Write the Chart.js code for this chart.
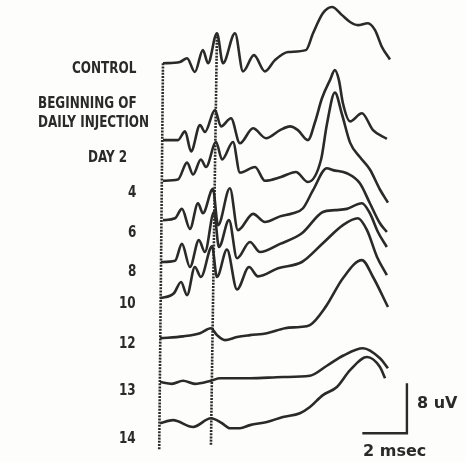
<!DOCTYPE html>
<html>
<head>
<meta charset="utf-8">
<script src="https://cdn.jsdelivr.net/npm/chart.js@4.4.1/dist/chart.umd.min.js"></script>
<style>
  html, body { margin: 0; padding: 0; background: #fdfdfb; }
  #wrap { position: relative; width: 466px; height: 462px; overflow: hidden; }
  .lbl {
    position: absolute;
    font-family: "DejaVu Sans Condensed", "DejaVu Sans", sans-serif;
    font-weight: bold;
    font-size: 15px;
    line-height: 1;
    color: #2a2a2a;
    white-space: nowrap;
    transform-origin: 0 50%;
    transform: translateY(-50%) scaleX(0.89);
  }
  .bar { font-family: "DejaVu Sans", sans-serif; font-size: 16px; transform: translateY(-50%); }
</style>
</head>
<body>
<div id="wrap"><canvas id="traces"></canvas></div>
<script>
/* time in msec after stimulus, amplitude in uV relative to each trace's own baseline */
const traceNames = ["CONTROL", "BEGINNING OF", "DAILY INJECTION", "DAY 2", "4", "6", "8", "10", "12", "13", "14"];

const control = [[0,0],[0.76,0.2],[1.08,0.8],[1.43,-1.4],[1.79,2.1],[2.02,0],[2.42,4.8],[2.69,0],[3.23,4.8],[3.59,-1.3],[4.08,1.3],[4.57,-1.3],[5.02,0.5],[5.61,1.8],[6.41,2.1],[6.73,4.8],[7.17,8.0],[7.58,9.0],[8.03,7.7],[8.39,6.6],[8.74,6.1],[9.19,6.4],[9.51,5.3],[9.82,2.6],[10.18,0.6]];
const injectionStart = [[0,0],[0.67,0],[0.99,1.4],[1.26,-1.8],[1.66,2.4],[1.88,1.3],[2.33,4.8],[2.60,2.2],[3.05,3.5],[3.45,-0.5],[4.04,1.9],[4.62,0.3],[5.25,1.6],[5.70,2.2],[6.05,1.6],[6.50,0],[6.82,2.9],[7.13,6.7],[7.49,9.6],[7.71,11.2],[7.89,9.6],[8.07,5.9],[8.39,3.0],[8.92,4.3],[9.42,1.6],[10.04,0.2]];
const day2 = [[0,0],[0.67,0.2],[1.08,2.9],[1.35,1.0],[1.70,3.4],[1.93,2.2],[2.38,6.2],[2.65,3.4],[3.14,6.2],[3.45,1.3],[4.13,2.2],[4.57,0],[5.29,0.6],[5.96,1.4],[6.50,-0.2],[7.09,3.4],[7.35,9.0],[7.71,14.1],[8.03,10.6],[8.39,6.1],[8.83,3.8],[9.28,1.8],[9.73,-1.4],[10.09,-3.5]];
const day4 = [[0,0],[0.54,0.3],[0.85,1.8],[1.21,-1.4],[1.57,2.7],[1.79,1.1],[2.24,5.0],[2.47,-0.8],[3.00,5.1],[3.36,-1.6],[4.04,1.0],[4.57,-0.3],[5.25,0.6],[5.83,1.1],[6.28,1.9],[6.73,4.8],[7.35,8.3],[7.62,8.0],[8.25,7.5],[8.83,5.9],[9.28,2.7],[9.73,-0.5],[10.04,-1.9]];
const day6 = [[-0.09,0],[0.54,0.2],[0.85,2.9],[1.21,-0.8],[1.61,3.5],[1.88,1.6],[2.29,8.0],[2.51,2.4],[2.96,6.7],[3.32,0.6],[3.90,3.2],[4.35,1.6],[5.25,2.9],[6.23,4.6],[7.17,8.0],[7.71,8.3],[8.25,8.5],[8.92,9.4],[9.28,7.8],[9.64,4.8],[10.04,2.4]];
const day8 = [[-0.13,0],[0.49,0.8],[0.81,2.6],[1.08,0.5],[1.43,5.0],[1.70,3.4],[2.20,8.3],[2.42,3.4],[2.87,7.8],[3.32,1.4],[3.86,5.0],[4.26,3.5],[5.16,4.8],[6.23,5.8],[7.17,8.8],[8.07,11.7],[8.74,12.8],[9.15,10.9],[9.60,6.6],[10.04,3.7]];
const day12 = [[-0.13,0],[0.90,0.3],[1.66,0.8],[2.15,1.6],[2.42,0.5],[2.78,-0.3],[3.32,0.2],[3.90,0.5],[4.66,0.8],[5.47,1.6],[6.14,1.8],[6.59,2.1],[7.31,5.1],[8.07,9.6],[8.92,12.5],[9.42,9.8],[10.09,5.0]];
const day13 = [[-0.13,0],[0.40,-0.3],[0.90,0.2],[1.43,-0.3],[2.15,0.2],[2.56,0.6],[3.90,0.6],[5.38,0.8],[6.59,1.0],[7.35,2.6],[8.07,4.2],[8.97,5.4],[9.73,3.8],[10.09,2.2]];
const day14 = [[-0.13,0],[0.45,0.5],[1.35,-0.6],[2.15,0.8],[2.65,0],[3.00,-0.8],[3.45,-0.8],[3.90,-0.3],[4.66,0.2],[5.38,1.0],[6.14,1.6],[6.59,2.6],[7.17,4.5],[7.80,5.8],[8.39,8.5],[9.15,10.6],[9.73,9.0],[9.96,7.2]];

/* vertical offset of each trace on the page, uV */
const traceOffsets = [63.8, 51.5, 45.0, 38.7, 32.0, 26.2, 19.8, 12.8, 6.2];

/* the two reference lines (stimulus, wave I), as [msec, uV] ends */
const stimulusLine = [[0, 63.8], [-0.17, 1.9]];
const waveOneLine = [[2.42, 68.6], [2.15, 2.7]];

/* calibration bar */
const calMs = 2;
const calUV = 8;
const calCorner = [10.94, 4.6];

const traces = [control, injectionStart, day2, day4, day6, day8, day12, day13, day14];

/* label placement: [left px, centre px] */
const labelBoxes = [
  [72, 68], [38, 103], [38, 122], [88, 157], [128, 192], [128, 232],
  [128, 271], [119, 303], [119, 343], [119, 390], [119, 438]
];

const INK = "#2a2a2a";

const wrap = document.getElementById("wrap");
traceNames.forEach(function (name, i) {
  const d = document.createElement("div");
  d.className = "lbl";
  d.textContent = name;
  d.style.left = labelBoxes[i][0] + "px";
  d.style.top = labelBoxes[i][1] + "px";
  wrap.appendChild(d);
});
[["8 uV", 417, 403], ["2 msec", 363, 451]].forEach(function (t) {
  const d = document.createElement("div");
  d.className = "lbl bar";
  d.textContent = t[0];
  d.style.left = t[1] + "px";
  d.style.top = t[2] + "px";
  wrap.appendChild(d);
});

function toPoints(pairs, off) {
  return pairs.map(function (p) { return { x: p[0], y: p[1] + (off || 0) }; });
}

const datasets = traces.map(function (tr, i) {
  return {
    data: toPoints(tr, traceOffsets[i]),
    borderColor: INK, borderWidth: 2.6,
    pointRadius: 0, cubicInterpolationMode: "monotone", fill: false
  };
});

[stimulusLine, waveOneLine].forEach(function (ln) {
  datasets.push({
    data: toPoints(ln), borderColor: INK, borderWidth: 2.6,
    borderDash: [2, 1.2], pointRadius: 0, tension: 0
  });
});

datasets.push({
  data: [
    { x: calCorner[0] - calMs, y: calCorner[1] },
    { x: calCorner[0], y: calCorner[1] },
    { x: calCorner[0], y: calCorner[1] + calUV }
  ],
  borderColor: INK, borderWidth: 2.4, pointRadius: 0, tension: 0
});

new Chart(document.getElementById("traces"), {
  type: "line",
  data: { datasets: datasets },
  options: {
    responsive: true,
    maintainAspectRatio: false,
    animation: false,
    events: [],
    layout: { padding: 0 },
    plugins: { legend: { display: false }, tooltip: { enabled: false } },
    scales: {
      x: { type: "linear", display: false, min: -7.31, max: 13.59 },
      y: { type: "linear", display: false, min: 0, max: 73.92 }
    }
  }
});
</script>
</body>
</html>
